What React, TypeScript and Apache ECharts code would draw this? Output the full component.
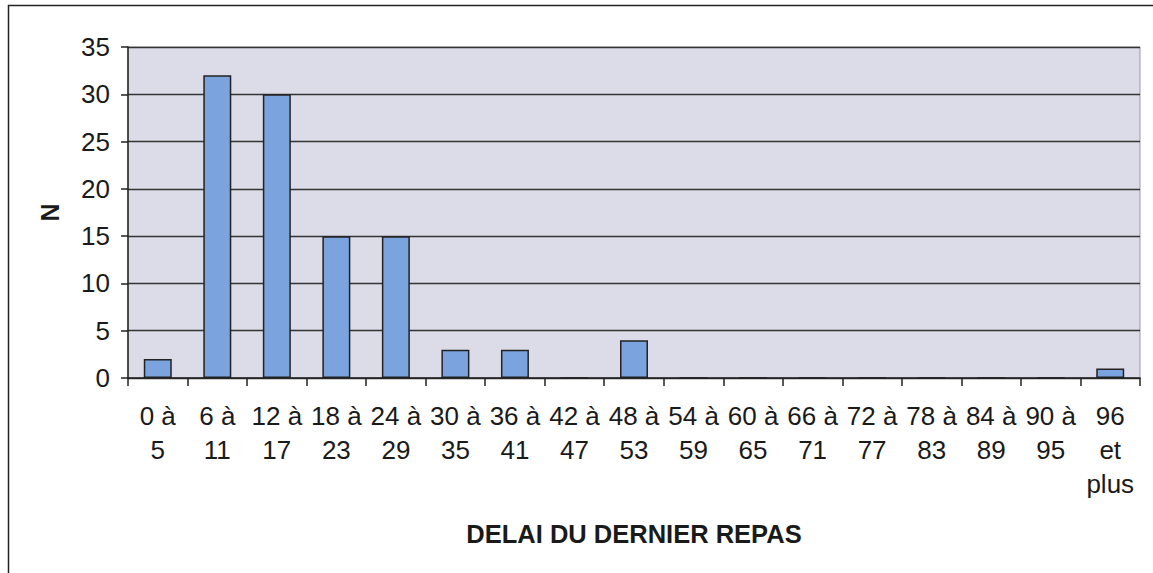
import React, { useEffect, useRef } from "react";
import * as echarts from "echarts";

const categories: string[] = [
  "0 à\n5", "6 à\n11", "12 à\n17", "18 à\n23", "24 à\n29", "30 à\n35",
  "36 à\n41", "42 à\n47", "48 à\n53", "54 à\n59", "60 à\n65", "66 à\n71",
  "72 à\n77", "78 à\n83", "84 à\n89", "90 à\n95", "96\net\nplus",
];
const counts: number[] = [2, 32, 30, 15, 15, 3, 3, 0, 4, 0, 0, 0, 0, 0, 0, 0, 1];
const yTicks = { min: 0, max: 35, interval: 5 };
const xTitle = "DELAI DU DERNIER REPAS";
const yTitle = "N";

export default function App() {
  const ref = useRef<HTMLDivElement>(null);
  useEffect(() => {
    if (!ref.current) return;
    const chart = echarts.init(ref.current, undefined, { renderer: "svg" });
    const font = "Liberation Sans, Arial, sans-serif";
    chart.setOption({
      animation: false,
      backgroundColor: "#ffffff",
      textStyle: { fontFamily: font },
      graphic: [
        {
          type: "polyline",
          shape: { points: [[8.5, 600], [8.5, 5.5], [1160, 5.5]] },
          style: { stroke: "#222", lineWidth: 1.5, fill: "none" },
          silent: true,
        },
      ],
      grid: {
        left: 128,
        top: 47,
        right: 13,
        bottom: 195,
        show: true,
        backgroundColor: "#dcdce9",
        borderColor: "#9a9aa6",
        borderWidth: 1,
      },
      xAxis: {
        type: "category",
        data: categories,
        boundaryGap: true,
        axisLine: { show: true, lineStyle: { color: "#222", width: 1.5 } },
        axisTick: { show: true, alignWithLabel: false, length: 8, interval: 0, lineStyle: { color: "#222", width: 1.5 } },
        axisLabel: {
          interval: 0,
          color: "#1a1a1a",
          fontSize: 26,
          fontFamily: font,
          lineHeight: 34,
          margin: 21,
        },
        name: xTitle,
        nameLocation: "middle",
        nameGap: 143,
        nameTextStyle: { color: "#1a1a1a", fontSize: 25.5, fontWeight: "bold", fontFamily: font },
      },
      yAxis: {
        type: "value",
        min: yTicks.min,
        max: yTicks.max,
        interval: yTicks.interval,
        axisLine: { show: true, lineStyle: { color: "#222", width: 1.5 } },
        axisTick: { show: true, length: 7, lineStyle: { color: "#222", width: 1.5 } },
        axisLabel: { color: "#1a1a1a", fontSize: 26, fontFamily: font, margin: 18 },
        splitLine: { show: true, lineStyle: { color: "#333", width: 1.3 } },
        name: yTitle,
        nameLocation: "middle",
        nameGap: 66,
        nameRotate: 90,
        nameTextStyle: { color: "#1a1a1a", fontSize: 25, fontWeight: "bold", fontFamily: font },
      },
      series: [
        {
          type: "bar",
          data: counts,
          barWidth: "47%",
          itemStyle: { color: "#7ba3de", borderColor: "#222", borderWidth: 1.5 },
        },
      ],
    });
    return () => chart.dispose();
  }, []);
  return (
    <div
      ref={ref}
      style={{ position: "fixed", left: 0, top: 0, width: 1153, height: 573 }}
    />
  );
}
